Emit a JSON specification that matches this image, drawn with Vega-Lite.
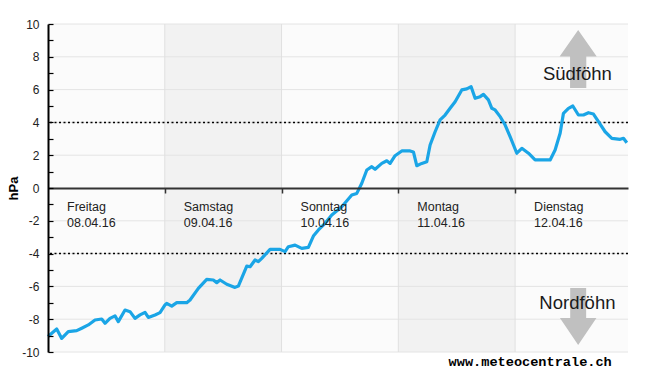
{
  "$schema": "https://vega.github.io/schema/vega-lite/v6.json",
  "width": 580,
  "height": 328,
  "autosize": {"type": "none"},
  "padding": {"left": 48, "top": 24, "right": 22, "bottom": 23},
  "background": "#ffffff",
  "config": {"view": {"stroke": null}, "font": "Liberation Sans"},
  "datasets": {
    "series": [
      {"h": 0, "hpa": -9.05}, {"h": 1.79, "hpa": -8.6}, {"h": 2.82, "hpa": -9.17}, {"h": 4.17, "hpa": -8.76},
      {"h": 5.9, "hpa": -8.7}, {"h": 6.93, "hpa": -8.55}, {"h": 8.28, "hpa": -8.35}, {"h": 9.66, "hpa": -8.05},
      {"h": 11.04, "hpa": -7.99}, {"h": 11.72, "hpa": -8.25}, {"h": 12.74, "hpa": -7.95}, {"h": 13.77, "hpa": -7.8},
      {"h": 14.45, "hpa": -8.15}, {"h": 15.83, "hpa": -7.44}, {"h": 16.86, "hpa": -7.54}, {"h": 17.88, "hpa": -7.95},
      {"h": 18.91, "hpa": -7.74}, {"h": 19.94, "hpa": -7.58}, {"h": 20.62, "hpa": -7.89}, {"h": 22.0, "hpa": -7.74},
      {"h": 23.02, "hpa": -7.6}, {"h": 24.05, "hpa": -7.13}, {"h": 24.4, "hpa": -7.03}, {"h": 25.43, "hpa": -7.2},
      {"h": 26.46, "hpa": -6.99}, {"h": 28.51, "hpa": -6.99}, {"h": 29.19, "hpa": -6.83}, {"h": 30.9, "hpa": -6.12},
      {"h": 32.62, "hpa": -5.57}, {"h": 33.98, "hpa": -5.61}, {"h": 34.68, "hpa": -5.77}, {"h": 35.36, "hpa": -5.61},
      {"h": 36.74, "hpa": -5.87}, {"h": 38.44, "hpa": -6.06}, {"h": 39.12, "hpa": -5.98}, {"h": 40.85, "hpa": -4.76},
      {"h": 41.53, "hpa": -4.8}, {"h": 42.55, "hpa": -4.39}, {"h": 43.23, "hpa": -4.49}, {"h": 43.93, "hpa": -4.29},
      {"h": 45.64, "hpa": -3.74}, {"h": 47.69, "hpa": -3.74}, {"h": 48.72, "hpa": -3.88}, {"h": 49.4, "hpa": -3.58},
      {"h": 50.78, "hpa": -3.48}, {"h": 52.15, "hpa": -3.68}, {"h": 53.51, "hpa": -3.62}, {"h": 54.54, "hpa": -2.93},
      {"h": 55.57, "hpa": -2.56}, {"h": 56.94, "hpa": -2.15}, {"h": 58.32, "hpa": -1.65}, {"h": 60.38, "hpa": -1.14},
      {"h": 62.43, "hpa": -0.43}, {"h": 63.46, "hpa": -0.33}, {"h": 64.49, "hpa": 0.29}, {"h": 65.52, "hpa": 1.1},
      {"h": 66.54, "hpa": 1.3}, {"h": 67.22, "hpa": 1.14}, {"h": 68.6, "hpa": 1.5}, {"h": 69.63, "hpa": 1.66},
      {"h": 70.31, "hpa": 1.5}, {"h": 71.33, "hpa": 1.97}, {"h": 72.71, "hpa": 2.26}, {"h": 74.42, "hpa": 2.26},
      {"h": 75.1, "hpa": 2.2}, {"h": 75.79, "hpa": 1.36}, {"h": 76.82, "hpa": 1.5}, {"h": 77.85, "hpa": 1.6},
      {"h": 78.53, "hpa": 2.62}, {"h": 79.56, "hpa": 3.43}, {"h": 80.58, "hpa": 4.15}, {"h": 81.61, "hpa": 4.45},
      {"h": 82.64, "hpa": 4.86}, {"h": 83.67, "hpa": 5.26}, {"h": 85.04, "hpa": 5.98}, {"h": 86.07, "hpa": 6.04},
      {"h": 86.96, "hpa": 6.18}, {"h": 87.78, "hpa": 5.47}, {"h": 88.81, "hpa": 5.57}, {"h": 89.49, "hpa": 5.71},
      {"h": 90.51, "hpa": 5.37}, {"h": 91.21, "hpa": 4.86}, {"h": 91.89, "hpa": 4.76}, {"h": 92.92, "hpa": 4.35},
      {"h": 93.95, "hpa": 3.84}, {"h": 94.97, "hpa": 3.13}, {"h": 96.35, "hpa": 2.12}, {"h": 97.38, "hpa": 2.42},
      {"h": 98.74, "hpa": 2.12}, {"h": 100.11, "hpa": 1.71}, {"h": 103.2, "hpa": 1.71}, {"h": 104.22, "hpa": 2.32},
      {"h": 105.25, "hpa": 3.34}, {"h": 105.93, "hpa": 4.55}, {"h": 106.96, "hpa": 4.86}, {"h": 107.86, "hpa": 5.0},
      {"h": 109.01, "hpa": 4.45}, {"h": 110.04, "hpa": 4.45}, {"h": 111.07, "hpa": 4.59}, {"h": 112.1, "hpa": 4.51},
      {"h": 113.13, "hpa": 4.04}, {"h": 114.5, "hpa": 3.43}, {"h": 115.88, "hpa": 3.03}, {"h": 117.59, "hpa": 2.97},
      {"h": 118.27, "hpa": 3.03}, {"h": 118.96, "hpa": 2.76}
    ],
    "days": [
      {"day": "Freitag", "date": "08.04.16", "start": 0, "end": 24, "band": "light"},
      {"day": "Samstag", "date": "09.04.16", "start": 24, "end": 48, "band": "dark"},
      {"day": "Sonntag", "date": "10.04.16", "start": 48, "end": 72, "band": "light"},
      {"day": "Montag", "date": "11.04.16", "start": 72, "end": 96, "band": "dark"},
      {"day": "Dienstag", "date": "12.04.16", "start": 96, "end": 119.2, "band": "light"}
    ],
    "grid": [{"g": -10}, {"g": -8}, {"g": -6}, {"g": -4}, {"g": -2}, {"g": 2}, {"g": 4}, {"g": 6}, {"g": 8}, {"g": 10}],
    "refs": [{"v": 4}, {"v": -4}]
  },
  "layer": [
    {
      "data": {"name": "days"},
      "mark": {"type": "rect"},
      "encoding": {
        "x": {"field": "start", "type": "quantitative", "scale": {"domain": [0, 119.2], "nice": false, "zero": false},
          "axis": {"orient": "bottom", "offset": -164, "values": [24, 48, 72, 96], "tickCount": 20, "labels": false, "title": null,
            "domainColor": "#333333", "domainWidth": 2, "tickColor": "#333333", "tickSize": 5, "tickWidth": 1.5, "grid": false, "zindex": 1}},
        "x2": {"field": "end"},
        "color": {"field": "band", "type": "nominal", "scale": {"domain": ["light", "dark"], "range": ["#fbfbfb", "#f2f2f2"]}, "legend": null}
      }
    },
    {
      "data": {"name": "grid"},
      "mark": {"type": "rule", "color": "#e4e4e4", "strokeWidth": 1},
      "encoding": {
        "y": {"field": "g", "type": "quantitative", "scale": {"domain": [-10, 10], "nice": false},
          "axis": {"orient": "left", "values": [-10, -9, -8, -7, -6, -5, -4, -3, -2, -1, 0, 1, 2, 3, 4, 5, 6, 7, 8, 9, 10],
            "tickCount": 30,
            "labelExpr": "datum.value % 2 === 0 ? '' + datum.value : ''", "labelOverlap": false,
            "title": "hPa", "titleFontWeight": "bold", "titleFontSize": 13, "titleColor": "#000000", "titleFont": "Liberation Sans", "titlePadding": 1,
            "domainColor": "#000000", "domainWidth": 2, "tickColor": "#000000", "tickSize": -5, "tickWidth": 1.2,
            "labelPadding": 14, "labelFont": "Liberation Sans", "labelFontSize": 12, "labelColor": "#222222", "grid": false, "zindex": 1}}
      }
    },
    {
      "data": {"name": "days"},
      "transform": [{"filter": "datum.start > 0"}],
      "mark": {"type": "rule", "color": "#e0e0e0", "strokeWidth": 1},
      "encoding": {"x": {"field": "start", "type": "quantitative"}}
    },
    {
      "data": {"name": "refs"},
      "mark": {"type": "rule", "color": "#000000", "strokeWidth": 1.5, "strokeDash": [2, 2.5]},
      "encoding": {"y": {"field": "v", "type": "quantitative"}}
    },
    {
      "data": {"name": "series"},
      "mark": {"type": "line", "color": "#1aa5e6", "strokeWidth": 3.2, "strokeJoin": "round"},
      "encoding": {
        "x": {"field": "h", "type": "quantitative"},
        "y": {"field": "hpa", "type": "quantitative"}
      }
    },
    {
      "data": {"name": "days"},
      "mark": {"type": "text", "align": "left", "baseline": "middle", "dx": 19, "fontSize": 12.5, "color": "#222222", "font": "Liberation Sans"},
      "encoding": {
        "x": {"field": "start", "type": "quantitative"},
        "y": {"datum": -1.15},
        "text": {"field": "day"}
      }
    },
    {
      "data": {"name": "days"},
      "mark": {"type": "text", "align": "left", "baseline": "middle", "dx": 19, "fontSize": 12.5, "color": "#222222", "font": "Liberation Sans"},
      "encoding": {
        "x": {"field": "start", "type": "quantitative"},
        "y": {"datum": -2.13},
        "text": {"field": "date"}
      }
    },
    {
      "data": {"values": [{"label": "Südföhn"}]},
      "mark": {"type": "point", "filled": true, "opacity": 1, "color": "#c0c0c0", "size": 3364,
        "shape": "M0,-1L0.64,-0.08L0.28,-0.08L0.28,1L-0.28,1L-0.28,-0.08L-0.64,-0.08Z"},
      "encoding": {"x": {"datum": 108.96}, "y": {"datum": 7.87}}
    },
    {
      "data": {"values": [{"label": "Nordföhn"}]},
      "mark": {"type": "point", "filled": true, "opacity": 1, "color": "#c0c0c0", "size": 3249,
        "shape": "M0,1L0.64,0.05L0.28,0.05L0.28,-1L-0.28,-1L-0.28,0.05L-0.64,0.05Z"},
      "encoding": {"x": {"datum": 108.96}, "y": {"datum": -7.84}}
    },
    {
      "data": {"values": [{"label": "Südföhn", "v": 6.95}, {"label": "Nordföhn", "v": -7.01}]},
      "mark": {"type": "text", "align": "center", "baseline": "middle", "fontSize": 18.5, "color": "#1a1a1a", "font": "Liberation Sans"},
      "encoding": {
        "x": {"datum": 108.8},
        "y": {"field": "v", "type": "quantitative"},
        "text": {"field": "label"}
      }
    },
    {
      "data": {"values": [{"label": "www.meteocentrale.ch"}]},
      "mark": {"type": "text", "align": "center", "baseline": "middle", "fontSize": 13.6, "fontWeight": "bold", "color": "#000000", "font": "Liberation Mono"},
      "encoding": {
        "x": {"datum": 99.1},
        "y": {"datum": -10.6},
        "text": {"field": "label"}
      }
    }
  ]
}
